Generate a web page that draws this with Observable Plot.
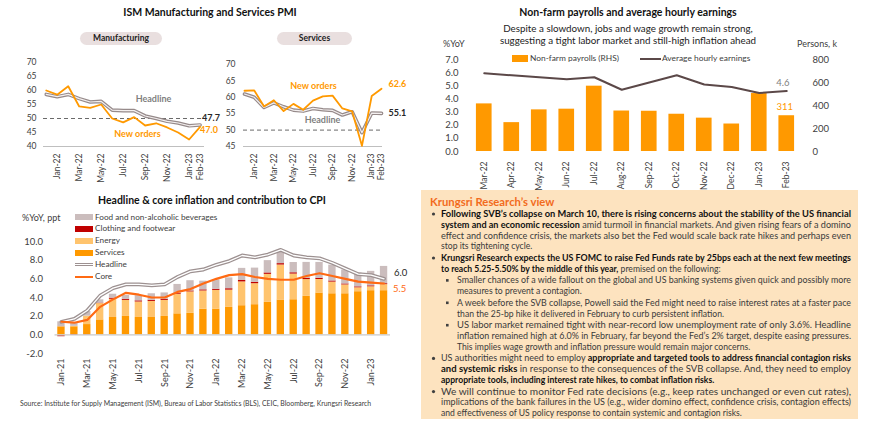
<!DOCTYPE html>
<html>
<head>
<meta charset="utf-8">
<script src="https://cdn.jsdelivr.net/npm/d3@7"></script>
<script src="https://cdn.jsdelivr.net/npm/@observablehq/plot@0.6"></script>
<style>
html,body{margin:0;padding:0;background:#fff;}
#root{position:relative;width:870px;height:426px;overflow:hidden;font-family:Lato,"Open Sans",sans-serif;color:#404040;}
.a{position:absolute;white-space:nowrap;}
.title{font-weight:700;font-size:10.5px;line-height:13px;color:#111;transform:translateX(-50%);}
.pill{background:#e9dfdf;border-radius:7px;font-weight:700;font-size:8.5px;color:#222;text-align:center;line-height:13px;height:13px;}
.leg{font-size:8.4px;line-height:11px;color:#404040;}
.chart svg{overflow:visible;}
</style>
</head>
<body>
<div id="root">
  <svg id="panel" class="a" style="left:0;top:0" width="870" height="426"></svg>

  <div class="a title" style="left:210px;top:5.5px;">ISM Manufacturing and Services PMI</div>
  <div class="a pill" style="left:80px;top:32px;width:82px;">Manufacturing</div>
  <div class="a pill" style="left:277px;top:32px;width:75px;">Services</div>
  <div id="mfg" class="a chart" style="left:0;top:50px;width:225px;height:140px;"></div>
  <div id="svc" class="a chart" style="left:215px;top:50px;width:215px;height:140px;"></div>

  <div class="a title" style="left:628px;top:5.5px;">Non-farm payrolls and average hourly earnings</div>
  <div class="a" style="left:628px;top:21.5px;transform:translateX(-50%);font-size:9.8px;color:#222;text-align:center;line-height:12.5px;">Despite a slowdown, jobs and wage growth remain strong,<br>suggesting a tight labor market and still-high inflation ahead</div>
  <div class="a leg" style="left:443px;top:37.5px;font-size:9px;">%YoY</div>
  <div class="a leg" style="left:797px;top:37.5px;font-size:9px;">Persons, k</div>
  <div class="a" style="left:512px;top:55px;width:16px;height:7px;background:#FF9900;"></div>
  <div class="a leg" style="left:530px;top:52.5px;">Non-farm payrolls (RHS)</div>
  <div class="a" style="left:640px;top:57.5px;width:21px;height:2px;background:#5b4848;"></div>
  <div class="a leg" style="left:662px;top:52.5px;">Average hourly earnings</div>
  <div id="nfp" class="a chart" style="left:425px;top:50px;width:445px;height:140px;"></div>

  <div class="a title" style="left:212px;top:193.5px;">Headline &amp; core inflation and contribution to CPI</div>
  <div class="a leg" style="left:22px;top:212px;font-size:9px;">%YoY, ppt</div>
  <div id="cpi" class="a chart" style="left:0;top:235px;width:425px;height:165px;"></div>
  <div class="a" style="left:20px;top:398.5px;font-size:6.9px;color:#404040;">Source: Institute for Supply Management (ISM), Bureau of Labor Statistics (BLS), CEIC, Bloomberg, Krungsri Research</div>
</div>
<script>
// ---------- PMI data ----------
const pmiMonths = ["Dec-21","Jan-22","Feb-22","Mar-22","Apr-22","May-22","Jun-22","Jul-22","Aug-22","Sep-22","Oct-22","Nov-22","Dec-22","Jan-23","Feb-23"];
const pmiTickMonths = ["Jan-22","Mar-22","May-22","Jul-22","Sep-22","Nov-22","Jan-23","Feb-23"];
const mfgHeadline = [58.6, 57.8, 58.6, 57.1, 55.9, 56.1, 53.0, 52.8, 52.8, 50.9, 50.0, 49.0, 48.4, 47.4, 47.7];
const mfgNewOrders = [60.0, 58.5, 61.5, 54.3, 53.8, 55.0, 50.0, 48.6, 50.5, 47.5, 48.3, 46.8, 45.0, 42.5, 47.0];
const svcHeadline = [61.0, 60.0, 56.9, 58.3, 57.1, 56.1, 55.8, 56.6, 56.2, 56.0, 54.6, 55.6, 49.2, 55.2, 55.1];
const svcNewOrders = [62.0, 62.1, 57.2, 59.1, 55.8, 58.0, 56.2, 59.0, 60.3, 60.5, 56.6, 55.7, 45.2, 60.4, 62.6];
const mfgYTicks = [40, 45, 50, 55, 60, 65, 70];
const svcYTicks = [45, 50, 55, 60, 65, 70];

// ---------- Non-farm data ----------
const nfpMonths = ["Mar-22","Apr-22","May-22","Jun-22","Jul-22","Aug-22","Sep-22","Oct-22","Nov-22","Dec-22","Jan-23","Feb-23"];
const payrolls = [414, 251, 362, 368, 568, 352, 350, 324, 290, 239, 504, 311];
const hourlyEarnings = [5.95, 5.8, 5.65, 5.5, 5.65, 4.7, 5.25, 5.8, 5.1, 4.9, 4.45, 4.6];
const nfpLeftTicks = [0, 1, 2, 3, 4, 5, 6, 7];
const nfpRightTicks = [0, 200, 400, 600, 800];

// ---------- CPI data ----------
const cpiMonths = ["Jan-21","Feb-21","Mar-21","Apr-21","May-21","Jun-21","Jul-21","Aug-21","Sep-21","Oct-21","Nov-21","Dec-21","Jan-22","Feb-22","Mar-22","Apr-22","May-22","Jun-22","Jul-22","Aug-22","Sep-22","Oct-22","Nov-22","Dec-22","Jan-23","Feb-23"];
const cpiServices = [0.86, 0.86, 1.1, 1.6, 1.86, 1.97, 1.86, 1.86, 1.97, 2.25, 2.3, 2.75, 2.76, 2.94, 3.12, 3.23, 3.48, 3.73, 3.76, 4.12, 4.48, 4.4, 4.4, 4.62, 4.73, 4.73];
const cpiEnergy = [-0.1, 0.05, 0.9, 1.75, 1.95, 1.72, 1.66, 1.72, 1.72, 2.1, 2.3, 1.95, 2.0, 1.85, 2.55, 2.25, 3.0, 3.75, 2.75, 1.8, 1.45, 1.25, 0.95, 0.42, 0.42, 0.65];
const cpiClothing = [-0.1, -0.05, -0.03, 0.05, 0.12, 0.12, 0.12, 0.12, 0.1, 0.1, 0.1, 0.12, 0.12, 0.15, 0.15, 0.15, 0.15, 0.15, 0.14, 0.14, 0.13, 0.12, 0.1, 0.1, 0.1, 0.1];
const cpiFood = [0.54, 0.4, 0.5, 0.35, 0.42, 0.4, 0.55, 0.7, 0.7, 0.95, 1.1, 0.93, 1.0, 1.16, 1.3, 1.52, 1.32, 1.45, 1.1, 1.7, 1.7, 1.7, 1.5, 1.5, 1.55, 1.85];
const cpiHeadline = [1.4, 1.7, 2.6, 4.2, 5.0, 5.4, 5.4, 5.3, 5.4, 6.2, 6.8, 7.0, 7.5, 7.9, 8.5, 8.3, 8.6, 9.1, 8.5, 8.3, 8.2, 7.7, 7.1, 6.5, 6.4, 6.0];
const cpiCore = [1.4, 1.3, 1.6, 3.0, 3.8, 4.5, 4.3, 4.0, 4.0, 4.6, 4.9, 5.5, 6.0, 6.4, 6.5, 6.2, 6.0, 5.9, 5.9, 6.3, 6.6, 6.3, 6.0, 5.7, 5.6, 5.5];
const cpiSeries = ["Services", "Energy", "Clothing and footwear", "Food and non-alcoholic beverages"];
const cpiYTicks = [-2, 0, 2, 4, 6, 8, 10];

const ORANGE = "#FF9900", GREY = "#7f7f7f";
const baseStyle = {fontFamily: "Lato, 'Open Sans', sans-serif", color: "#404040", background: "transparent", overflow: "visible"};

// ---------- PMI charts ----------
function pmiChart(o) {
  const idx = d3.range(pmiMonths.length);
  const last = pmiMonths.length - 1;
  return Plot.plot({
    width: o.width, height: 140, marginTop: o.marginTop, marginBottom: 44, marginLeft: o.marginLeft, marginRight: o.marginRight,
    style: {...baseStyle, fontSize: "8.5px"},
    x: {type: "linear", domain: o.xDomain},
    y: {domain: o.yDomain},
    marks: [
      Plot.axisY({ticks: o.yTicks, tickSize: 0, tickPadding: o.yPad, tickFormat: d => String(d), label: null, fontSize: 8.5}),
      Plot.axisX({ticks: pmiTickMonths.map(m => pmiMonths.indexOf(m)), tickFormat: i => pmiMonths[i], tickRotate: -90, tickSize: 0, tickPadding: 7, label: null, fontSize: 8.5}),
      Plot.ruleY([o.yDomain[0]], {stroke: "#bfbfbf", strokeWidth: 1}),
      Plot.ruleY([50], {stroke: "#595959", strokeDasharray: "4,3", strokeWidth: 0.9}),
      Plot.line(idx, {x: i => i, y: i => o.headline[i], stroke: "#968a8a", strokeWidth: 3.6}),
      Plot.line(idx, {x: i => i, y: i => o.headline[i], stroke: "#f3efef", strokeWidth: 1.2}),
      Plot.line(idx, {x: i => i, y: i => o.orders[i], stroke: ORANGE, strokeWidth: 1.8}),
      Plot.text(["Headline"], {x: o.hlPos[0], y: o.hlPos[1], text: d => d, fill: GREY, fontWeight: "bold", fontSize: 9}),
      Plot.text(["New orders"], {x: o.noPos[0], y: o.noPos[1], text: d => d, fill: ORANGE, fontWeight: "bold", fontSize: 9}),
      Plot.text([last], {x: i => i, y: i => o.headline[i], text: i => o.headline[i].toFixed(1), dx: o.hlEnd[0], dy: o.hlEnd[1], textAnchor: "start", fill: "#262626", fontWeight: "bold", fontSize: 9}),
      Plot.text([last], {x: i => i, y: i => o.orders[i], text: i => o.orders[i].toFixed(1), dx: o.noEnd[0], dy: o.noEnd[1], textAnchor: "start", fill: ORANGE, fontWeight: "bold", fontSize: 9})
    ]
  });
}
document.getElementById("mfg").append(pmiChart({
  width: 225, marginTop: 12, marginLeft: 43, marginRight: 21, xDomain: [-0.25, 14.4], yDomain: [40, 70], yTicks: mfgYTicks, yPad: 7,
  headline: mfgHeadline, orders: mfgNewOrders, hlPos: [9.76, 56.8], noPos: [8.3, 44.6], hlEnd: [2, -7], noEnd: [0, 3]
}));
document.getElementById("svc").append(pmiChart({
  width: 215, marginTop: 14, marginLeft: 28, marginRight: 48, xDomain: [-0.1, 14.1], yDomain: [45, 70], yTicks: svcYTicks, yPad: 8,
  headline: svcHeadline, orders: svcNewOrders, hlPos: [7.97, 52.9], noPos: [7.05, 63.3], hlEnd: [7, 0], noEnd: [7, -5]
}));

// ---------- Non-farm chart ----------
const y2 = d3.scaleLinear([0, 800], [0, 7]);
document.getElementById("nfp").append(Plot.plot({
  width: 445, height: 140, marginTop: 9, marginBottom: 39, marginLeft: 45, marginRight: 70,
  style: {...baseStyle, fontSize: "9.5px"},
  x: {type: "band", domain: nfpMonths, paddingInner: 0.43, paddingOuter: 0.215, round: false},
  y: {domain: [0, 7]},
  marks: [
    Plot.axisY({ticks: nfpLeftTicks, tickSize: 0, tickPadding: 12, tickFormat: d => d.toFixed(1), label: null}),
    Plot.axisY(nfpRightTicks, {y: y2, anchor: "right", tickSize: 0, tickPadding: 12, tickFormat: d => String(d), label: null, textAnchor: "start"}),
    Plot.axisX({tickRotate: -90, tickSize: 0, tickPadding: 10, label: null, fontSize: 8.5}),
    Plot.barY(nfpMonths, {x: d => d, y: (d, i) => y2(payrolls[i]), fill: ORANGE}),
    Plot.line(nfpMonths, {x: d => d, y: (d, i) => hourlyEarnings[i], stroke: "#5b4848", strokeWidth: 2}),
    Plot.text([nfpMonths.length - 1], {x: i => nfpMonths[i], y: i => hourlyEarnings[i], text: i => hourlyEarnings[i].toFixed(1), dx: -4, dy: -8, fill: GREY, fontSize: 9.5}),
    Plot.text([nfpMonths.length - 1], {x: i => nfpMonths[i], y: i => y2(payrolls[i]), text: i => String(payrolls[i]), dx: -2, dy: -9, fill: ORANGE, fontSize: 9.5})
  ]
}));

// ---------- CPI chart ----------
const cpiComp = cpiMonths.flatMap((m, i) => [
  {m, k: cpiSeries[0], v: cpiServices[i]},
  {m, k: cpiSeries[1], v: cpiEnergy[i]},
  {m, k: cpiSeries[2], v: cpiClothing[i]},
  {m, k: cpiSeries[3], v: cpiFood[i]}
]);
const cpiColors = [ORANGE, "#FFC46E", "#C00000", "#CBBDBD"];
const lastC = cpiMonths.length - 1;
document.getElementById("cpi").append(Plot.plot({
  width: 425, height: 165, marginTop: 6, marginBottom: 47, marginLeft: 54.5, marginRight: 35,
  style: {...baseStyle, fontSize: "9.5px"},
  x: {type: "band", domain: cpiMonths, paddingInner: 0.43, paddingOuter: 0.215, round: false},
  y: {domain: [-2, 10]},
  color: {domain: cpiSeries, range: cpiColors},
  marks: [
    Plot.axisY({ticks: cpiYTicks, tickSize: 0, tickPadding: 12, tickFormat: d => d.toFixed(1), label: null}),
    Plot.axisX({ticks: cpiMonths.filter((d, i) => i % 2 === 0), tickRotate: -90, tickSize: 0, tickPadding: 5, label: null, fontSize: 9}),
    Plot.barY(cpiComp, {x: "m", y: "v", fill: "k"}),
    Plot.ruleY([0], {stroke: "#c8c8c8", strokeWidth: 1.2}),
    Plot.line(cpiMonths, {x: d => d, y: (d, i) => cpiHeadline[i], stroke: "#9d9191", strokeWidth: 3.8}),
    Plot.line(cpiMonths, {x: d => d, y: (d, i) => cpiHeadline[i], stroke: "#ffffff", strokeWidth: 1.3}),
    Plot.line(cpiMonths, {x: d => d, y: (d, i) => cpiCore[i], stroke: "#FF6A13", strokeWidth: 2.2}),
    Plot.text([lastC], {x: i => cpiMonths[i], y: i => cpiHeadline[i], text: i => cpiHeadline[i].toFixed(1), dx: 10, dy: -6, textAnchor: "start", fill: "#262626", fontSize: 9.5}),
    Plot.text([lastC], {x: i => cpiMonths[i], y: i => cpiCore[i], text: i => cpiCore[i].toFixed(1), dx: 9, dy: 5, textAnchor: "start", fill: "#FF6A13", fontSize: 9.5})
  ]
}));

// CPI legend
(function () {
  const root = document.getElementById("root");
  const items = [
    {label: cpiSeries[3], type: "rect", c: cpiColors[3]},
    {label: cpiSeries[2], type: "rect", c: cpiColors[2]},
    {label: cpiSeries[1], type: "rect", c: cpiColors[1]},
    {label: cpiSeries[0], type: "rect", c: cpiColors[0]},
    {label: "Headline", type: "double"},
    {label: "Core", type: "line", c: "#FF6A13"}
  ];
  items.forEach((it, i) => {
    const cy = 217 + i * 11.9;
    const sw = document.createElement("div");
    sw.className = "a";
    sw.style.left = "75px"; sw.style.width = "18px";
    if (it.type === "rect") { sw.style.top = (cy - 3) + "px"; sw.style.height = "6px"; sw.style.background = it.c; }
    else if (it.type === "line") { sw.style.top = (cy - 1) + "px"; sw.style.height = "2.2px"; sw.style.background = it.c; }
    else { sw.style.top = (cy - 2) + "px"; sw.style.height = "1.3px"; sw.style.background = "#fff"; sw.style.border = "1.3px solid #9d9191"; sw.style.borderLeft = "none"; sw.style.borderRight = "none"; }
    root.append(sw);
    const t = document.createElement("div");
    t.className = "a leg";
    t.style.left = "95px"; t.style.top = (cy - 5.5) + "px"; t.style.fontSize = "8.2px";
    t.textContent = it.label;
    root.append(t);
  });
})();

// ---------- Krungsri Research's view panel ----------
const viewParagraphs = [
  {kind: "dot", lines: [
    [["Following SVB’s collapse on March 10, there is rising concerns about the stability of the US financial", 1]],
    [["system and an economic recession", 1], [" amid turmoil in financial markets. And given rising fears of a domino", 0]],
    [["effect and confidence crisis, the markets also bet the Fed would scale back rate hikes and perhaps even", 0]],
    [["stop its tightening cycle.", 0]]
  ]},
  {kind: "dot", lines: [
    [["Krungsri Research expects the US FOMC to raise Fed Funds rate by 25bps each at the next few meetings", 1]],
    [["to reach 5.25-5.50% by the middle of this year,", 1], [" premised on the following:", 0]]
  ]},
  {kind: "square", lines: [
    [["Smaller chances of a wide fallout on the global and US banking systems given quick and possibly more", 0]],
    [["measures to prevent a contagion.", 0]]
  ]},
  {kind: "square", lines: [
    [["A week before the SVB collapse, Powell said the Fed might need to raise interest rates at a faster pace", 0]],
    [["than the 25-bp hike it delivered in February to curb persistent inflation.", 0]]
  ]},
  {kind: "square", lines: [
    [["US labor market remained tight with near-record low unemployment rate of only 3.6%. Headline", 0]],
    [["inflation remained high at 6.0% in February, far beyond the Fed’s 2% target, despite easing pressures.", 0]],
    [["This implies wage growth and inflation pressure would remain major concerns.", 0]]
  ]},
  {kind: "dot", lines: [
    [["US authorities might need to employ ", 0], ["appropriate and targeted tools to address financial contagion risks", 1]],
    [["and systemic risks", 1], [" in response to the consequences of the SVB collapse. And, they need to employ", 0]],
    [["appropriate tools, including interest rate hikes, to combat inflation risks.", 1]]
  ]},
  {kind: "dot", lines: [
    [["We will continue to monitor Fed rate decisions (e.g., keep rates unchanged or even cut rates),", 0]],
    [["implications of the bank failures in the US (e.g., wider domino effect, confidence crisis, contagion effects)", 0]],
    [["and effectiveness of US policy response to contain systemic and contagion risks.", 0]]
  ]}
];
(function () {
  const svg = d3.select("#panel");
  svg.append("rect").attr("x", 421).attr("y", 190).attr("width", 437).attr("height", 229).attr("fill", "#fde3bf");
  svg.append("text").attr("x", 430).attr("y", 205.5).attr("font-size", 11.3).attr("font-weight", 700)
    .attr("fill", "#F26B1D").attr("font-family", "Lato, sans-serif").text("Krungsri Research’s view");
  let cy = 214;
  const step = 10.8, gap = 0.8, right = 851;
  viewParagraphs.forEach((p) => {
    const tx = p.kind === "dot" ? 441 : 457;
    if (p.kind === "dot") svg.append("circle").attr("cx", 433.5).attr("cy", cy).attr("r", 1.6).attr("fill", "#404040");
    else svg.append("rect").attr("x", 446).attr("y", cy - 1.3).attr("width", 2.6).attr("height", 2.6).attr("fill", "#404040");
    p.lines.forEach((segs, li) => {
      const t = svg.append("text").attr("x", tx).attr("y", cy + 3).attr("font-size", 8.6)
        .attr("font-family", "Lato, sans-serif").style("white-space", "pre");
      if (li < p.lines.length - 1) t.attr("textLength", right - tx).attr("lengthAdjust", "spacingAndGlyphs");
      segs.forEach(([s, b]) => t.append("tspan").attr("font-weight", b ? 700 : 400).attr("fill", b ? "#111" : "#3a3a3a").text(s));
      cy += step;
    });
    cy += gap;
  });
})();
</script>
</body>
</html>
